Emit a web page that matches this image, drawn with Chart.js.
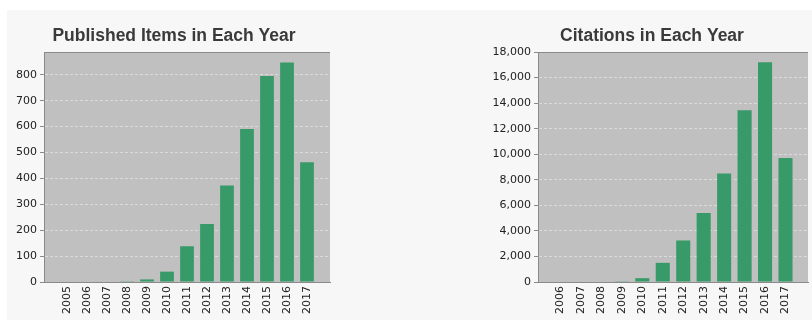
<!DOCTYPE html>
<html>
<head>
<meta charset="utf-8">
<script src="https://cdn.jsdelivr.net/npm/chart.js@4/dist/chart.umd.min.js"></script>
<style>
  html, body { margin: 0; padding: 0; background: #ffffff; width: 812px; height: 320px; overflow: hidden; }
  #panel { position: absolute; left: 7px; top: 10px; width: 805px; height: 310px; background: #f7f7f7; }
  .box { position: absolute; top: 10px; height: 310px; }
  #leftBox { left: 7px; width: 334px; }
  #rightBox { left: 492px; width: 320px; }
</style>
</head>
<body>
<div id="panel"></div>
<div class="box" id="leftBox"><canvas id="pubChart"></canvas></div>
<div class="box" id="rightBox"><canvas id="citChart"></canvas></div>
<script>
// ---- data ----
const pubYears = [2005, 2006, 2007, 2008, 2009, 2010, 2011, 2012, 2013, 2014, 2015, 2016, 2017];
const pubCounts = [0, 0, 0, 1, 10, 40, 138, 224, 373, 591, 795, 847, 462];
const pubYTicks = [0, 100, 200, 300, 400, 500, 600, 700, 800];

const citYears = [2006, 2007, 2008, 2009, 2010, 2011, 2012, 2013, 2014, 2015, 2016, 2017];
const citCounts = [0, 0, 0, 20, 300, 1500, 3250, 5400, 8500, 13450, 17200, 9700];
const citYTicks = [0, 2000, 4000, 6000, 8000, 10000, 12000, 14000, 16000, 18000];

const pubTitle = 'Published Items in Each Year';
const citTitle = 'Citations in Each Year';

// ---- styling ----
const BAR = '#389a68';
const PLOT_BG = '#c0c0c0';
const GRID = '#dadada';
const AXIS = '#8a8a8a';
const TEXT = '#222222';

const plotBg = {
  id: 'plotBg',
  beforeDraw(chart) {
    const a = chart.chartArea, ctx = chart.ctx;
    ctx.save();
    ctx.fillStyle = PLOT_BG;
    ctx.fillRect(a.left, a.top, a.right - a.left, a.bottom - a.top);
    ctx.restore();
  },
  afterDraw(chart) {
    const a = chart.chartArea, ctx = chart.ctx;
    ctx.save();
    ctx.strokeStyle = AXIS;
    ctx.lineWidth = 1;
    ctx.setLineDash([]);
    ctx.beginPath();
    ctx.moveTo(a.left, a.top + 0.5);
    ctx.lineTo(a.right, a.top + 0.5);
    ctx.stroke();
    ctx.restore();
  }
};

function makeChart(id, years, values, yTicks, yMax, title, xMin, xMax, yWidth, xHeight, padRight) {
  return new Chart(document.getElementById(id), {
    type: 'bar',
    data: {
      datasets: [{
        data: years.map((y, i) => ({ x: y, y: values[i] })),
        backgroundColor: BAR,
        borderWidth: 0,
        categoryPercentage: 0.8,
        barPercentage: 0.86
      }]
    },
    options: {
      responsive: true,
      maintainAspectRatio: false,
      animation: false,
      layout: { padding: 0 },
      plugins: {
        legend: { display: false },
        tooltip: { enabled: false },
        title: {
          display: true,
          text: title,
          color: '#3a3a3a',
          font: { family: "'Liberation Sans', Arial, sans-serif", size: 17.5, weight: 'bold', lineHeight: 1.2 },
          padding: { top: 16, bottom: 5 }
        }
      },
      scales: {
        x: {
          type: 'linear',
          offset: false,
          min: xMin,
          max: xMax,
          afterBuildTicks: (s) => { s.ticks = years.map(v => ({ value: v })); },
          afterFit: (s) => { s.height = xHeight; },
          grid: { display: false, drawTicks: false },
          border: { display: true, color: AXIS, width: 1 },
          ticks: {
            autoSkip: false,
            minRotation: 90,
            maxRotation: 90,
            padding: 4,
            color: TEXT,
            font: { family: "'DejaVu Sans', Verdana, sans-serif", size: 11 },
            callback: (v) => String(v)
          }
        },
        y: {
          min: 0,
          max: yMax,
          afterBuildTicks: (s) => { s.ticks = yTicks.map(v => ({ value: v })); },
          afterFit: (s) => { s.width = yWidth; },
          grid: {
            color: GRID,
            lineWidth: 1,
            drawTicks: true,
            tickLength: 4,
            tickColor: AXIS
          },
          border: { display: true, color: AXIS, width: 1, dash: [3, 2] },
          ticks: {
            padding: 3,
            color: TEXT,
            font: { family: "'DejaVu Sans', Verdana, sans-serif", size: 11 },
            callback: (v) => Number(v).toLocaleString('en-US')
          }
        },
        yRightSpace: {
          type: 'linear',
          position: 'right',
          display: true,
          afterFit: (s) => { s.width = padRight; },
          grid: { display: false, drawTicks: false },
          border: { display: false },
          ticks: { display: false }
        }
      }
    },
    plugins: [plotBg]
  });
}

makeChart('pubChart', pubYears, pubCounts, pubYTicks, 888, pubTitle, 2003.85, 2018.15, 37, 38, 11);
makeChart('citChart', citYears, citCounts, citYTicks, 18000, citTitle, 2004.9, 2018.1, 46, 38, 4);
</script>
</body>
</html>
